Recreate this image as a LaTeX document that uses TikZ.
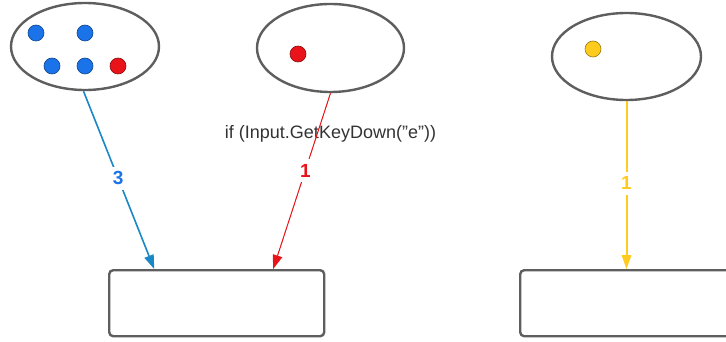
\documentclass[tikz,border=0pt]{standalone}
\usepackage{fontspec}
\setmainfont{Liberation Sans}
\usetikzlibrary{shapes.geometric,arrows.meta}
\definecolor{edgegray}{HTML}{5E5E5E}
\definecolor{dotblue}{HTML}{1A73E8}
\definecolor{lineblue}{HTML}{1A87C6}
\definecolor{dotred}{HTML}{E8141A}
\definecolor{dotyellow}{HTML}{FFCB1F}
\tikzset{
  bag/.style={draw=edgegray, line width=2.4pt, ellipse, inner sep=0pt},
  slot/.style={draw=edgegray, line width=2.4pt, rounded corners=4pt,
    minimum width=215pt, minimum height=66pt, inner sep=0pt, anchor=north west},
  token/.style={circle, minimum size=16pt, inner sep=0pt, line width=0.6pt},
  bluetok/.style={token, fill=dotblue, draw=dotblue!60!black},
  redtok/.style={token, fill=dotred, draw=dotred!60!black},
  yellowtok/.style={token, fill=dotyellow, draw=dotyellow!60!black},
  flow/.style={-{Triangle[length=14pt,width=10pt,line width=0pt]}},
  count/.style={fill=white, inner xsep=3pt, inner ysep=5pt,
    font=\fontsize{19}{21}\selectfont\bfseries}
}
\begin{document}
\begin{tikzpicture}[x=1pt, y=-1pt]
  \useasboundingbox (0,0) rectangle (726,342);
  \clip (0,0) rectangle (726,342);

  % source bags
  \node[bag, minimum width=148pt, minimum height=87pt] (e1) at (85,46.5) {};
  \node[bag, minimum width=147pt, minimum height=88pt] (e2) at (330.5,48) {};
  \node[bag, minimum width=149pt, minimum height=87pt] (e3) at (626.5,56.5) {};

  % tokens
  \node[bluetok] (b1) at (36,33) {};
  \node[bluetok] (b2) at (85,33) {};
  \node[bluetok] (b3) at (52,66) {};
  \node[bluetok] (b4) at (85,66) {};
  \node[redtok] (r1) at (118,66) {};
  \node[redtok] (r2) at (298,54) {};
  \node[yellowtok] (y1) at (593,49) {};

  % target slots
  \node[slot] (s1) at (108,269) {};
  \node[slot] (s2) at (519,269) {};

  % condition text
  \node[font=\fontsize{18}{20}\selectfont, text=black!80, inner sep=0pt] (cond) at (330.5,134)
    {if (Input.GetKeyDown("e"))};

  % transfers
  \draw[flow, draw=lineblue, fill=lineblue, line width=1.6pt]
    ([xshift=-1.5pt]e1.south) -- node[count, text=dotblue, pos=0.49] (n1) {3}
    ([xshift=-62.5pt]s1.north);
  \draw[flow, draw=dotred, fill=dotred, line width=1pt]
    (e2.south) -- node[count, text=dotred, pos=0.44] (n2) {1}
    ([xshift=56.5pt]s1.north);
  \draw[flow, draw=dotyellow, fill=dotyellow, line width=2pt]
    (e3.south) -- node[count, text=dotyellow, pos=0.49] (n3) {1}
    (s2.north west -| e3.south);
\end{tikzpicture}
\end{document}
